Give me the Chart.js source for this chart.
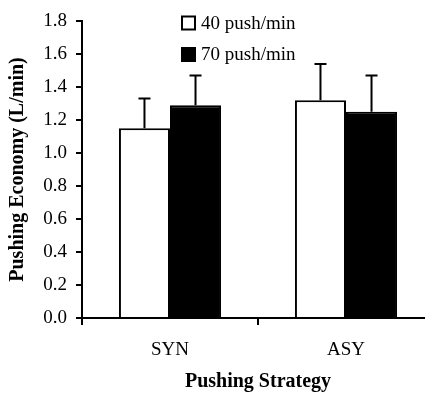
<!DOCTYPE html>
<html>
<head>
<meta charset="utf-8">
<script src="https://cdn.jsdelivr.net/npm/chart.js@4/dist/chart.umd.min.js"></script>
<style>
  html, body { margin: 0; padding: 0; background: #ffffff; overflow: hidden; }
  /* the original axis runs past the right edge of the image */
  #wrap { width: 434px; height: 395px; position: relative; }
</style>
</head>
<body>
<div id="wrap"><canvas id="chart"></canvas></div>
<script>
// data
const categories = ['SYN', 'ASY'];
const seriesNames = ['40 push/min', '70 push/min'];
const push40 = [1.15, 1.32];
const push70 = [1.29, 1.25];
const push40Err = [0.18, 0.22];
const push70Err = [0.18, 0.22];
const yTicks = [0.0, 0.2, 0.4, 0.6, 0.8, 1.0, 1.2, 1.4, 1.6, 1.8];

const FONT = 'Liberation Serif';

// upward-only error bars with a cap
const errorBars = {
    id: 'errorBars',
    afterDatasetsDraw(chart) {
        const ctx = chart.ctx;
        const y = chart.scales.y;
        ctx.save();
        ctx.strokeStyle = '#000';
        ctx.lineWidth = 2;
        chart.data.datasets.forEach((ds, i) => {
            const meta = chart.getDatasetMeta(i);
            meta.data.forEach((bar, j) => {
                const top = y.getPixelForValue(ds.data[j]);
                const end = y.getPixelForValue(ds.data[j] + ds.errors[j]);
                ctx.beginPath();
                ctx.moveTo(bar.x, top);
                ctx.lineTo(bar.x, end);
                ctx.moveTo(bar.x - 6, end);
                ctx.lineTo(bar.x + 6, end);
                ctx.stroke();
            });
        });
        ctx.restore();
    }
};

// stacked legend inside the plot, like the original
const boxLegend = {
    id: 'boxLegend',
    afterDraw(chart) {
        const ctx = chart.ctx;
        const x0 = chart.chartArea.left + 100;
        const y0 = chart.chartArea.top + 2;
        ctx.save();
        ctx.font = '19px "' + FONT + '"';
        ctx.textBaseline = 'middle';
        chart.data.datasets.forEach((ds, i) => {
            const cy = y0 + i * 31.5;
            ctx.fillStyle = ds.backgroundColor;
            ctx.fillRect(x0, cy - 6.5, 13, 13);
            ctx.strokeStyle = '#000';
            ctx.lineWidth = 2;
            ctx.strokeRect(x0, cy - 6.5, 13, 13);
            ctx.fillStyle = '#000';
            ctx.fillText(ds.label, x0 + 19, cy + 1);
        });
        ctx.restore();
    }
};

new Chart(document.getElementById('chart'), {
    type: 'bar',
    data: {
        labels: categories,
        datasets: [{
            label: seriesNames[0],
            data: push40,
            errors: push40Err,
            backgroundColor: '#ffffff',
            borderColor: '#000000',
            borderWidth: 2
        }, {
            label: seriesNames[1],
            data: push70,
            errors: push70Err,
            backgroundColor: '#000000',
            borderColor: '#000000',
            borderWidth: 2
        }]
    },
    options: {
        responsive: true,
        maintainAspectRatio: false,
        animation: false,
        layout: { padding: { top: 21, right: 0, left: 6, bottom: 1 } },
        datasets: { bar: { barPercentage: 1.0, categoryPercentage: 0.58 } },
        plugins: {
            legend: { display: false },
            tooltip: { enabled: false }
        },
        scales: {
            x: {
                offset: true,
                afterFit: axis => { axis.height = 76; },
                grid: {
                    offset: true,
                    drawOnChartArea: false,
                    color: '#000',
                    lineWidth: 2,
                    tickLength: 7
                },
                border: { color: '#000', width: 2 },
                ticks: {
                    color: '#000',
                    font: { family: FONT, size: 19 },
                    padding: 14
                },
                title: {
                    display: true,
                    text: 'Pushing Strategy',
                    color: '#000',
                    font: { family: FONT, size: 20, weight: 'bold' },
                    padding: { top: 10, bottom: 0 }
                }
            },
            y: {
                min: 0,
                max: 1.8,
                afterFit: axis => { axis.width = 76; },
                afterBuildTicks: axis => {
                    axis.ticks = yTicks.map(v => ({ value: v }));
                },
                grid: {
                    drawOnChartArea: false,
                    color: '#000',
                    lineWidth: 2,
                    tickLength: 6
                },
                border: { color: '#000', width: 2 },
                ticks: {
                    color: '#000',
                    font: { family: FONT, size: 19 },
                    padding: 9,
                    callback: v => v.toFixed(1)
                },
                title: {
                    display: true,
                    text: 'Pushing Economy (L/min)',
                    color: '#000',
                    font: { family: FONT, size: 20, weight: 'bold' },
                    padding: { top: 0, bottom: 0 }
                }
            }
        }
    },
    plugins: [errorBars, boxLegend]
});
</script>
</body>
</html>
